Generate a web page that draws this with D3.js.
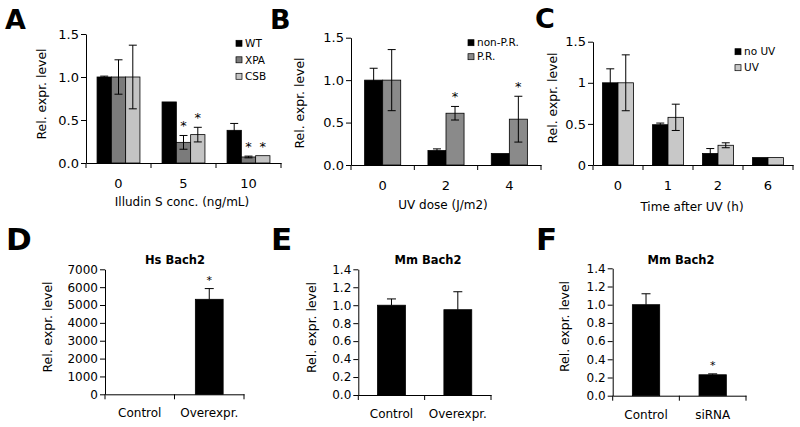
<!DOCTYPE html>
<html>
<head>
<meta charset="utf-8">
<script src="https://cdn.jsdelivr.net/npm/d3@7"></script>
<style>
  body { margin: 0; background: #fff; }
  text { font-family: "DejaVu Sans", Verdana, sans-serif; fill: #000; }
</style>
</head>
<body>
<script>
// ---- data ----
// A: Illudin S
var aCats = ["0", "5", "10"];
var aWT = [1.0, 0.71, 0.38],   aWTErr = [0.01, 0, 0.08],   aWTStar = [0, 0, 0];
var aXPA = [1.0, 0.24, 0.07],  aXPAErr = [0.2, 0.08, 0.01], aXPAStar = [0, 1, 1];
var aCSB = [1.0, 0.33, 0.085], aCSBErr = [0.37, 0.085, 0], aCSBStar = [0, 1, 1];
// B: UV dose
var bCats = ["0", "2", "4"];
var bNonPR = [1.0, 0.17, 0.135], bNonPRErr = [0.14, 0.02, 0], bNonPRStar = [0, 0, 0];
var bPR = [1.0, 0.61, 0.54],     bPRErr = [0.36, 0.08, 0.27], bPRStar = [0, 1, 1];
// C: time after UV
var cCats = ["0", "1", "2", "6"];
var cNoUV = [1.0, 0.49, 0.14, 0.09], cNoUVErr = [0.17, 0.02, 0.06, 0];
var cUV = [1.0, 0.58, 0.24, 0.09],   cUVErr = [0.34, 0.16, 0.03, 0];
// D, E, F
var dCats = ["Control", "Overexpr."];
var dVals = [0, 5320], dErr = [0, 600], dStar = [0, 1];
var eCats = ["Control", "Overexpr."];
var eVals = [1.0, 0.95], eErr = [0.07, 0.2], eStar = [0, 0];
var fCats = ["Control", "siRNA"];
var fVals = [1.0, 0.23], fErr = [0.12, 0.01], fStar = [0, 1];

var topTicks = [0, 0.5, 1.0, 1.5];
var dTicks = [0, 1000, 2000, 3000, 4000, 5000, 6000, 7000];
var efTicks = [0, 0.2, 0.4, 0.6, 0.8, 1.0, 1.2, 1.4];

var svg = d3.select("body").append("svg")
    .attr("width", 800)
    .attr("height", 427);

svg.append("rect").attr("width", 800).attr("height", 427).attr("fill", "#fff");

var fmt1 = d3.format(".1f");

var panels = [
  { letter: "A", lx: 5, ly: 29, lfs: 27,
    cats: aCats, x0: 86, x1: 281, y0: 163, y1: 34, ymax: 1.5, ticks: topTicks, fmt: fmt1, pad: 0.34,
    both: true, tfs: 13, tpad: 16, sfs: 13,
    series: [
      { name: "WT", vals: aWT, err: aWTErr, stars: aWTStar, color: "#000" },
      { name: "XPA", vals: aXPA, err: aXPAErr, stars: aXPAStar, color: "#7b7b7b" },
      { name: "CSB", vals: aCSB, err: aCSBErr, stars: aCSBStar, color: "#c4c4c4" }
    ],
    legend: { x: 236, y: 43.3, dy: 16.5, fs: 10.5 },
    ytx: 46, yty: 94, xt: "Illudin S conc. (ng/mL)", xtx: 182, xty: 205.5 },
  { letter: "B", lx: 270, ly: 28.5, lfs: 27,
    cats: bCats, x0: 351, x1: 541, y0: 165, y1: 37.7, ymax: 1.5, ticks: topTicks, fmt: fmt1, pad: 0.43,
    both: true, tfs: 13, tpad: 16, sfs: 13,
    series: [
      { name: "non-P.R.", vals: bNonPR, err: bNonPRErr, stars: bNonPRStar, color: "#000" },
      { name: "P.R.", vals: bPR, err: bPRErr, stars: bPRStar, color: "#8a8a8a" }
    ],
    legend: { x: 468, y: 42.7, dy: 14, fs: 10.5 },
    ytx: 304, yty: 103, xt: "UV dose (J/m2)", xtx: 443, xty: 209 },
  { letter: "C", lx: 535, ly: 27.5, lfs: 27,
    cats: cCats, x0: 593, x1: 793, y0: 165, y1: 41.7, ymax: 1.5, ticks: topTicks, fmt: function(d) { return String(d); }, pad: 0.38,
    both: true, tfs: 13, tpad: 16, sfs: 13,
    series: [
      { name: "no UV", vals: cNoUV, err: cNoUVErr, color: "#000" },
      { name: "UV", vals: cUV, err: cUVErr, color: "#c8c8c8" }
    ],
    legend: { x: 735, y: 51.7, dy: 16, fs: 10.5 },
    ytx: 557, yty: 98, xt: "Time after UV (h)", xtx: 692, xty: 211 },
  { letter: "D", lx: 6, ly: 250, lfs: 31,
    cats: dCats, x0: 105, x1: 244, y0: 394.3, y1: 269.3, ymax: 7000, ticks: dTicks, fmt: d3.format("d"), pad: 0.6,
    both: false, tfs: 12, tpad: 14.5, sfs: 11,
    series: [ { name: "Hs", vals: dVals, err: dErr, stars: dStar, color: "#000" } ],
    title: "Hs Bach2", tx: 175, ty: 264,
    ytx: 52, yty: 327 },
  { letter: "E", lx: 271, ly: 250, lfs: 31,
    cats: eCats, x0: 358.3, x1: 491, y0: 395, y1: 269.3, ymax: 1.4, ticks: efTicks, fmt: fmt1, pad: 0.58,
    both: false, tfs: 12, tpad: 14.5, sfs: 11,
    series: [ { name: "Mm", vals: eVals, err: eErr, stars: eStar, color: "#000" } ],
    title: "Mm Bach2", tx: 428, ty: 264,
    ytx: 316, yty: 327.5 },
  { letter: "F", lx: 536, ly: 250, lfs: 31,
    cats: fCats, x0: 612.7, x1: 746, y0: 395.7, y1: 268.3, ymax: 1.4, ticks: efTicks, fmt: fmt1, pad: 0.59,
    both: false, tfs: 12, tpad: 14.5, sfs: 11,
    series: [ { name: "Mm", vals: fVals, err: fErr, stars: fStar, color: "#000" } ],
    title: "Mm Bach2", tx: 681, ty: 264,
    ytx: 569, yty: 326.5 }
];

function drawPanel(p) {
  var g = svg.append("g");

  var x = d3.scaleBand().domain(p.cats).range([p.x0, p.x1])
      .paddingInner(p.pad).paddingOuter(p.pad / 2);
  var xs = d3.scaleBand().domain(p.series.map(function(s) { return s.name; }))
      .range([0, x.bandwidth()]);
  var y = d3.scaleLinear().domain([0, p.ymax]).range([p.y0, p.y1]);

  // bars, error bars, stars
  p.series.forEach(function(s) {
    var rows = p.cats.map(function(c, i) {
      return { c: c, v: s.vals[i], e: s.err[i], star: s.stars ? s.stars[i] : 0 };
    });
    var sg = g.append("g");
    sg.selectAll("rect").data(rows.filter(function(d) { return d.v > 0; }))
      .join("rect")
        .attr("x", function(d) { return x(d.c) + xs(s.name); })
        .attr("width", xs.bandwidth())
        .attr("y", function(d) { return y(d.v); })
        .attr("height", function(d) { return y(0) - y(d.v); })
        .attr("fill", s.color)
        .attr("stroke", "#000")
        .attr("stroke-width", 0.8);

    var cap = p.both ? 4 : 4.5;
    var eb = sg.selectAll("g.err").data(rows.filter(function(d) { return d.e > 0; }))
      .join("g").attr("class", "err")
        .attr("transform", function(d) { return "translate(" + (x(d.c) + xs(s.name) + xs.bandwidth() / 2) + ",0)"; });
    var lo = function(d) { return p.both ? y(d.v - d.e) : y(d.v); };
    eb.append("line")
        .attr("y1", lo)
        .attr("y2", function(d) { return y(d.v + d.e); })
        .attr("stroke", "#000").attr("stroke-width", 1);
    eb.append("line")
        .attr("x1", -cap).attr("x2", cap)
        .attr("y1", function(d) { return y(d.v + d.e); })
        .attr("y2", function(d) { return y(d.v + d.e); })
        .attr("stroke", "#000").attr("stroke-width", 1);
    if (p.both) {
      eb.append("line")
          .attr("x1", -cap).attr("x2", cap)
          .attr("y1", lo).attr("y2", lo)
          .attr("stroke", "#000").attr("stroke-width", 1);
    }

    sg.selectAll("text.star").data(rows.filter(function(d) { return d.star; }))
      .join("text").attr("class", "star")
        .attr("x", function(d) { return x(d.c) + xs(s.name) + xs.bandwidth() / 2; })
        .attr("y", function(d) { return y(d.v + d.e) - 5; })
        .attr("text-anchor", "middle")
        .attr("font-size", p.sfs)
        .text("*");
  });

  // y axis
  var ya = g.append("g")
      .attr("transform", "translate(" + p.x0 + ",0)")
      .call(d3.axisLeft(y).tickValues(p.ticks).tickFormat(p.fmt).tickSize(5).tickSizeOuter(0).tickPadding(2));
  ya.attr("font-family", null).attr("font-size", p.tfs);
  ya.selectAll("line, path").attr("stroke", "#000");

  // x axis: labels at centers, ticks at category boundaries
  var xa = g.append("g")
      .attr("transform", "translate(0," + p.y0 + ")")
      .call(d3.axisBottom(x).tickSize(0).tickSizeOuter(0).tickPadding(p.tpad));
  xa.attr("font-family", null).attr("font-size", p.tfs);
  xa.select(".domain").attr("stroke", "#000");
  xa.selectAll(".bnd").data(d3.range(p.cats.length + 1))
    .join("line").attr("class", "bnd")
      .attr("x1", function(i) { return x.range()[0] + i * x.step(); })
      .attr("x2", function(i) { return x.range()[0] + i * x.step(); })
      .attr("y1", 0).attr("y2", 5)
      .attr("stroke", "#000");

  // titles
  g.append("text")
      .attr("transform", "translate(" + p.ytx + "," + p.yty + ") rotate(-90)")
      .attr("text-anchor", "middle")
      .attr("font-size", 12.4)
      .text("Rel. expr. level");
  if (p.xt) {
    g.append("text")
        .attr("x", p.xtx).attr("y", p.xty)
        .attr("text-anchor", "middle")
        .attr("font-size", 12)
        .text(p.xt);
  }
  if (p.title) {
    g.append("text")
        .attr("x", p.tx).attr("y", p.ty)
        .attr("text-anchor", "middle")
        .attr("font-size", 11.5)
        .attr("font-weight", "bold")
        .text(p.title);
  }
  g.append("text")
      .attr("x", p.lx).attr("y", p.ly)
      .attr("font-size", p.lfs)
      .attr("font-weight", "bold")
      .text(p.letter);

  // legend
  if (p.legend) {
    var lg = g.append("g");
    var items = lg.selectAll("g").data(p.series).join("g")
        .attr("transform", function(d, i) { return "translate(" + p.legend.x + "," + (p.legend.y + i * p.legend.dy) + ")"; });
    items.append("rect")
        .attr("x", 0).attr("y", -3).attr("width", 6).attr("height", 6)
        .attr("fill", function(d) { return d.color; })
        .attr("stroke", "#000").attr("stroke-width", 0.7);
    items.append("text")
        .attr("x", 9).attr("y", 0).attr("dy", "0.36em")
        .attr("font-size", p.legend.fs)
        .text(function(d) { return d.name; });
  }
}

panels.forEach(drawPanel);
</script>
</body>
</html>
